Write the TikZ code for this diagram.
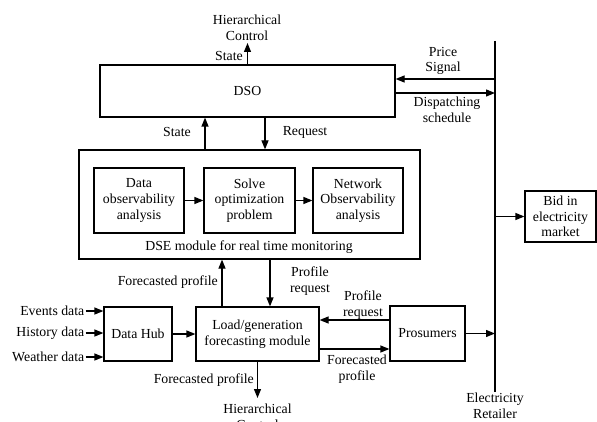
\documentclass[tikz,border=0pt]{standalone}
\usepackage{fontspec}
\setmainfont{Liberation Serif}
\usetikzlibrary{arrows.meta}
\begin{document}
\begin{tikzpicture}[x=1pt,y=-1pt,
  font=\fontsize{13.8}{15.7}\selectfont,
  box/.style={draw, line width=1.2pt, align=center, inner sep=0pt},
  lbl/.style={align=center, inner sep=1pt},
  arr/.style={line width=1.2pt, -{Triangle[length=9pt,width=7pt]}},
  ln/.style={line width=1.2pt}]
\useasboundingbox (0,0) rectangle (597,422);

% helper coordinates
\coordinate (sx) at (205,0);
\coordinate (rx) at (265,0);
\coordinate (fx) at (222,0);
\coordinate (px) at (270,0);
\coordinate (py) at (0,79);
\coordinate (dy) at (0,93);
\coordinate (q1) at (0,320);
\coordinate (q2) at (0,349);

% boxes
\node[box, minimum width=295pt, minimum height=52pt] (dso) at (247.5,91) {DSO};
\node[box, minimum width=341pt, minimum height=109pt] (dse) at (249.5,204.5) {};
\node[lbl] (dsel) at (249,247) {DSE module for real time monitoring};
\node[box, minimum width=90pt, minimum height=65pt] (d1) at (139,200.5) {Data\\observability\\analysis};
\node[box, minimum width=91pt, minimum height=65pt] (d2) at (249.5,200.5) {Solve\\optimization\\problem};
\node[box, minimum width=90pt, minimum height=65pt] (d3) at (358,200.5) {Network\\Observability\\analysis};
\node[box, minimum width=71pt, minimum height=51pt] (bid) at (560.5,216.5) {Bid in\\electricity\\market};
\node[box, minimum width=68pt, minimum height=54pt] (hub) at (138,334) {Data Hub};
\node[box, minimum width=123pt, minimum height=54pt] (load) at (257.5,334) {Load/generation\\forecasting module};
\node[box, minimum width=75pt, minimum height=55pt] (pros) at (427.5,333.5) {Prosumers};

% retailer line
\coordinate (rt) at (495,41);
\coordinate (rb) at (495,392);
\draw[ln] (rt) -- (rb);
\node[lbl] (ret) at (495,406) {Electricity\\Retailer};

% top hierarchical control
\coordinate (hc) at (247.5,43);
\draw[arr] (dso.north) -- (hc);
\node[lbl] (hct) at (247,28) {Hierarchical\\Control};
\node[lbl, anchor=east] (st1) at (244,56) {State};

% DSO <-> DSE
\draw[arr] (dse.north -| sx) -- (dso.south -| sx);
\draw[arr] (dso.south -| rx) -- (dse.north -| rx);
\node[lbl] (st2) at (177,132) {State};
\node[lbl] (req) at (305,132) {Request};

% DSO <-> retailer
\draw[arr] (rt |- py) -- (dso.east |- py);
\draw[arr] (dso.east |- dy) -- (rt |- dy);
\node[lbl] (price) at (443,61) {Price\\Signal};
\node[lbl] (disp) at (447,110) {Dispatching\\schedule};

% inside DSE
\draw[arr] (d1.east) -- (d2.west);
\draw[arr] (d2.east) -- (d3.west);

% bid
\draw[arr] (rt |- bid.west) -- (bid.west);

% DSE <-> load
\draw[arr] (load.north -| fx) -- (dse.south -| fx);
\draw[arr] (dse.south -| px) -- (load.north -| px);
\node[lbl, anchor=east] (fp1) at (219,282) {Forecasted profile};
\node[lbl] (pr1) at (310,281) {Profile\\request};

% inputs
\node[lbl, anchor=east] (ev) at (85.5,311) {Events data};
\node[lbl, anchor=east] (hi) at (85.5,333) {History data};
\node[lbl, anchor=east] (we) at (85.5,357) {Weather data};
\draw[arr] (ev.east) -- (ev.east -| hub.west);
\draw[arr] (hi.east) -- (hi.east -| hub.west);
\draw[arr] (we.east) -- (we.east -| hub.west);
\draw[arr] (hub.east) -- (load.west);

% load <-> prosumers
\draw[arr] (pros.west |- q1) -- (load.east |- q1);
\draw[arr] (load.east |- q2) -- (pros.west |- q2);
\node[lbl] (pr2) at (363,305) {Profile\\request};
\node[lbl] (fp2) at (357,369) {Forecasted\\profile};
\draw[arr] (pros.east) -- (rt |- pros.east);

% bottom hierarchical control
\coordinate (hcb) at (257.5,398);
\draw[arr] (load.south) -- (hcb);
\node[lbl, anchor=east] (fp3) at (255,380) {Forecasted profile};
\node[lbl] (hcbl) at (257.5,417) {Hierarchical\\Control};
\end{tikzpicture}
\end{document}
